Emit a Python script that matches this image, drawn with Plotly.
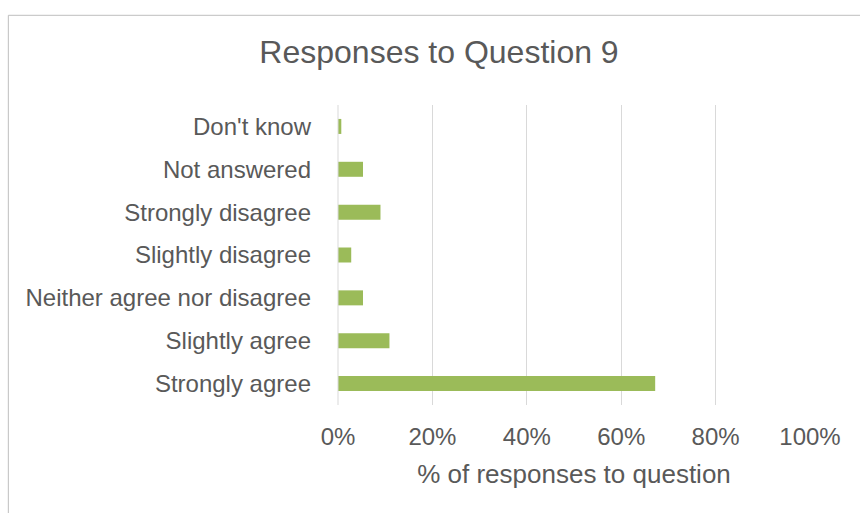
import plotly.graph_objects as go

categories = ["Strongly agree", "Slightly agree", "Neither agree nor disagree",
              "Slightly disagree", "Strongly disagree", "Not answered", "Don't know"]
values = [0.672, 0.109, 0.053, 0.028, 0.090, 0.053, 0.007]
x_ticks = [0, 0.2, 0.4, 0.6, 0.8, 1.0]
x_tick_labels = ["0%", "20%", "40%", "60%", "80%", "100%"]

W, H = 860, 513
L, R, T, B = 338.3, 810.5, 104.5, 405.5
FONT = "Liberation Sans, Arial, sans-serif"
TXT = "#595959"

fig = go.Figure(go.Bar(
    x=values, y=categories, orientation="h",
    marker=dict(color="#9BBB59", line=dict(width=0)),
    width=0.35,
))

def px_x(p):
    return (p - L) / (R - L)

def px_y(p):
    return (B - p) / (B - T)

fig.update_layout(
    width=W, height=H,
    margin=dict(l=L, r=W - R, t=T, b=H - B, pad=0),
    paper_bgcolor="white", plot_bgcolor="white",
    showlegend=False,
    title=dict(text="Responses to Question 9", x=439 / W, xref="container",
               xanchor="center", y=1 - 52 / H, yanchor="middle", yref="container",
               font=dict(family=FONT, size=32, color=TXT)),
    xaxis=dict(range=[0, 1.0], tickvals=x_ticks, ticktext=x_tick_labels,
               showgrid=True, gridcolor="#D9D9D9", gridwidth=1, zeroline=False,
               showline=False, ticks="", ticklabelstandoff=15,
               tickfont=dict(family=FONT, size=24, color=TXT),
               title=dict(text="% of responses to question", standoff=15,
                          font=dict(family=FONT, size=26, color=TXT)),
               fixedrange=True),
    yaxis=dict(categoryorder="array", categoryarray=categories,
               showgrid=False, zeroline=False, showline=False, ticks="",
               ticklabelstandoff=26,
               tickfont=dict(family=FONT, size=24, color=TXT),
               fixedrange=True),
    shapes=[
        dict(type="line", xref="paper", yref="paper", x0=0, x1=0, y0=0, y1=1,
             line=dict(color="#D9D9D9", width=1), layer="above"),
        dict(type="rect", xref="paper", yref="paper",
             x0=px_x(8.5), x1=px_x(W + 20), y0=px_y(H + 20), y1=px_y(14.5),
             line=dict(color="#BFBFBF", width=1), layer="below"),
    ],
)

fig.write_html("out.html")
